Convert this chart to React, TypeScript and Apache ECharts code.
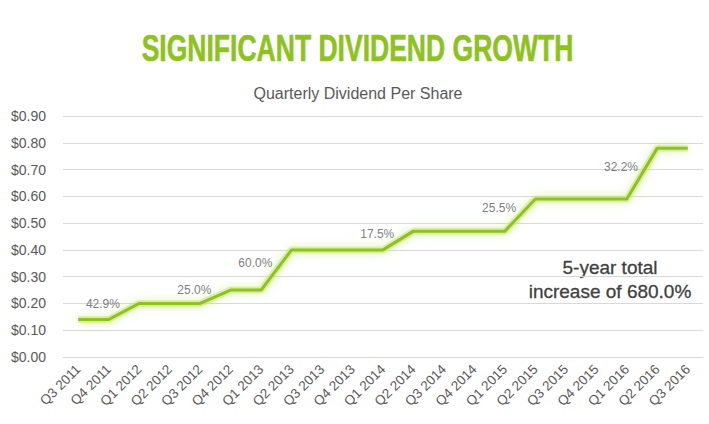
import React, { useEffect, useRef } from "react";
import * as echarts from "echarts";

const categories = [
  "Q3 2011", "Q4 2011", "Q1 2012", "Q2 2012", "Q3 2012", "Q4 2012", "Q1 2013",
  "Q2 2013", "Q3 2013", "Q4 2013", "Q1 2014", "Q2 2014", "Q3 2014", "Q4 2014",
  "Q1 2015", "Q2 2015", "Q3 2015", "Q4 2015", "Q1 2016", "Q2 2016", "Q3 2016",
];
const dividends = [
  0.14, 0.14, 0.2, 0.2, 0.2, 0.25, 0.25,
  0.4, 0.4, 0.4, 0.4, 0.47, 0.47, 0.47,
  0.47, 0.59, 0.59, 0.59, 0.59, 0.78, 0.78,
];
const increaseLabels = ["42.9%", "25.0%", "60.0%", "17.5%", "25.5%", "32.2%"];
const titleText = "SIGNIFICANT DIVIDEND GROWTH";
const subtitleText = "Quarterly Dividend Per Share";
const noteText = "5-year total\nincrease of 680.0%";

export default function App() {
  const ref = useRef<HTMLDivElement>(null);
  useEffect(() => {
    if (!ref.current) return;
    const chart = echarts.init(ref.current, undefined, { renderer: "svg" });

    // midpoints of each step-up segment, for the increase labels
    const jumps: number[][] = [];
    for (let i = 0; i < dividends.length - 1; i++) {
      if (dividends[i + 1] > dividends[i]) {
        jumps.push([i + 0.5, (dividends[i] + dividends[i + 1]) / 2]);
      }
    }
    const labelData = jumps.map((p, k) => ({ value: p, name: increaseLabels[k] }));

    const green = "#8DC21F";
    const gray = "#595959";
    const ff = '"Liberation Sans", Arial, sans-serif';

    chart.setOption({
      animation: false,
      backgroundColor: "#ffffff",
      grid: { left: 63, right: 6, top: 116, bottom: 67 },
      xAxis: [
        {
          type: "category",
          data: categories,
          boundaryGap: true,
          axisLine: { show: true, lineStyle: { color: "#d9d9d9", width: 1 } },
          axisTick: { show: false },
          axisLabel: {
            rotate: 45,
            interval: 0,
            fontSize: 13.5,
            color: gray,
            margin: 10,
            fontFamily: ff,
          },
        },
        {
          type: "value",
          min: -0.5,
          max: categories.length - 0.5,
          show: false,
        },
      ],
      yAxis: {
        type: "value",
        min: 0,
        max: 0.9,
        interval: 0.1,
        axisLine: { show: false },
        axisTick: { show: false },
        splitLine: { lineStyle: { color: "#d9d9d9", width: 1 } },
        axisLabel: {
          formatter: (v: number) => "$" + v.toFixed(2),
          fontSize: 14,
          color: gray,
          margin: 17,
          fontFamily: ff,
        },
      },
      series: [
        {
          type: "line",
          data: dividends,
          xAxisIndex: 0,
          showSymbol: false,
          symbol: "none",
          lineStyle: {
            color: "rgba(195, 230, 110, 0.5)",
            width: 7,
            shadowColor: "rgba(195, 232, 105, 0.9)",
            shadowBlur: 10,
          },
          silent: true,
          z: 1,
        },
        {
          type: "line",
          data: dividends,
          xAxisIndex: 0,
          showSymbol: false,
          symbol: "none",
          lineStyle: {
            color: green,
            width: 3,
          },
          z: 2,
        },
        {
          type: "scatter",
          xAxisIndex: 1,
          data: labelData,
          symbolSize: 0,
          label: {
            show: true,
            position: "left",
            distance: 4,
            offset: [0, -7],
            formatter: (p: any) => p.name,
            fontSize: 12,
            color: gray,
            fontFamily: ff,
          },
          z: 3,
        },
      ],
      graphic: [
        {
          type: "text",
          x: 357.5,
          y: 48,
          scaleX: 0.737,
          style: {
            text: titleText,
            fill: green,
            stroke: green,
            lineWidth: 0.6,
            font: "bold 36px " + ff,
            textAlign: "center",
            textVerticalAlign: "middle",
          },
        },
        {
          type: "text",
          x: 358,
          y: 93,
          style: {
            text: subtitleText,
            fill: gray,
            font: "16px " + ff,
            textAlign: "center",
            textVerticalAlign: "middle",
          },
        },
        {
          type: "text",
          x: 610,
          y: 279,
          style: {
            text: noteText,
            fill: "#404040",
            stroke: "#404040",
            lineWidth: 0.3,
            font: "19px " + ff,
            lineHeight: 24,
            textAlign: "center",
            textVerticalAlign: "middle",
          },
        },
      ],
    });
    return () => chart.dispose();
  }, []);
  return (
    <div
      ref={ref}
      style={{ position: "fixed", left: 0, top: 0, width: 709, height: 424 }}
    />
  );
}
